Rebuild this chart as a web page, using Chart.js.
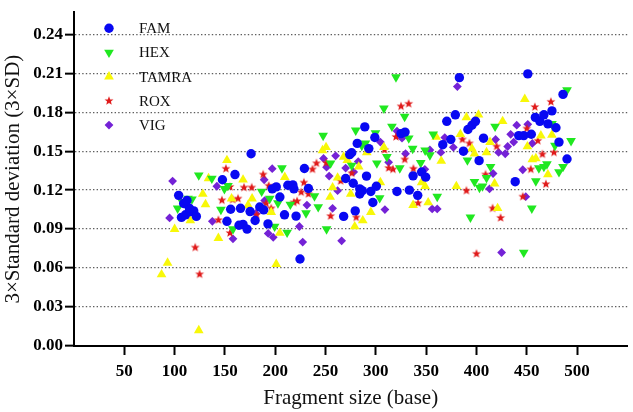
<!DOCTYPE html>
<html>
<head>
<meta charset="utf-8">
<script src="https://cdn.jsdelivr.net/npm/chart.js@4/dist/chart.umd.min.js"></script>
<style>
  html, body { margin: 0; padding: 0; background: #fff; }
  #wrap { width: 633px; height: 412px; }
</style>
</head>
<body>
<div id="wrap"><canvas id="sdChart" width="633" height="412"></canvas></div>
<script>
// Tick values
const xTicks = [50, 100, 150, 200, 250, 300, 350, 400, 450, 500];
const yTicks = [0, 0.03, 0.06, 0.09, 0.12, 0.15, 0.18, 0.21, 0.24];

// FAM
const famSize = [104, 106.8, 110.8, 115.7, 119, 121.6, 114.7, 109, 112.3,
  147.5, 160, 176, 152, 155.7, 165.5, 164, 168, 172, 180, 175, 184.6, 188.5, 192.8,
  197, 201, 204.6, 209.2, 212.5, 217.5, 218.5, 220.7, 224.6, 229, 233,
  268, 270, 274, 276, 277.5, 279.5, 281.5, 284, 286.5, 284, 289, 290.7, 293, 295, 297, 299, 300.5,
  321, 325, 329, 333.3, 337, 341.6, 345.5, 349.5,
  366.5, 370.5, 374.5, 379, 383, 387, 391.5, 395.5, 399, 402.6, 407,
  438.5, 442, 447, 451, 454.5, 458.5, 463, 467, 471, 475, 479, 482, 486, 490];
const famSD = [0.116, 0.099, 0.101, 0.1035, 0.104, 0.0998, 0.106, 0.1097, 0.112,
  0.128, 0.132, 0.148, 0.096, 0.1053, 0.106, 0.093, 0.0936, 0.090, 0.0966, 0.1035, 0.107, 0.1048, 0.094,
  0.121, 0.1225, 0.1147, 0.101, 0.1238, 0.124, 0.121, 0.100, 0.067, 0.1367, 0.1213,
  0.0998, 0.129, 0.1474, 0.1488, 0.1253, 0.104, 0.156, 0.121, 0.1196, 0.117, 0.1687, 0.1308, 0.152, 0.119, 0.1105, 0.1605, 0.123,
  0.119, 0.1635, 0.1647, 0.120, 0.131, 0.116, 0.134, 0.130,
  0.155, 0.173, 0.159, 0.178, 0.2066, 0.150, 0.1667, 0.170, 0.173, 0.1427, 0.160,
  0.1265, 0.162, 0.162, 0.2095, 0.163, 0.176, 0.173, 0.178, 0.171, 0.181, 0.168, 0.157, 0.1937, 0.144];

// HEX
const hexSize = [103, 107.5, 113.3, 117.2, 124, 137, 146, 149.5, 153, 158, 186.5, 194.5, 199.4, 202.7,
  206.7, 211.8, 215, 230.6, 239, 242.7, 247.6, 251, 255, 276, 280, 286, 289.6, 299.6, 301, 303.8,
  308, 311, 316, 320, 323.8, 328.6, 332.7, 336.6, 344.6, 349, 353.7, 357, 361, 391, 394, 398, 403,
  406, 410, 414, 418.5, 447, 455, 459, 462, 467, 470, 475, 478, 482, 486, 490, 494];
const hexSD = [0.106, 0.111, 0.1135, 0.113, 0.1315, 0.129, 0.105, 0.121, 0.1234, 0.090, 0.119, 0.1135, 0.092, 0.110,
  0.137, 0.0874, 0.109, 0.1023, 0.1154, 0.107, 0.162, 0.090, 0.1407, 0.139, 0.166, 0.1543, 0.156, 0.164, 0.1407, 0.114,
  0.183, 0.1456, 0.169, 0.207, 0.137, 0.1766, 0.160, 0.152, 0.141, 0.1506, 0.147, 0.163, 0.115, 0.143, 0.099, 0.1265, 0.122,
  0.123, 0.1295, 0.138, 0.169, 0.072, 0.106, 0.127, 0.137, 0.138, 0.140, 0.171, 0.1543, 0.134, 0.138, 0.197, 0.158];

// TAMRA
const tamraSize = [87, 93, 100, 115.6, 124, 128, 130.7, 133.7, 143.5, 152, 156.6, 168, 173, 177, 196, 201,
  204.5, 209.5, 247, 250.5, 254.6, 257, 262, 268, 271.6, 275, 279, 283, 287, 291, 295, 304.5, 308,
  337, 345.5, 349, 352, 360, 365, 380, 384, 390, 395.5, 398, 402, 410, 413.5, 418, 421, 426,
  448, 450.6, 455.5, 459, 464, 471, 475];
const tamraSD = [0.055, 0.064, 0.090, 0.0966, 0.012, 0.117, 0.109, 0.129, 0.083, 0.143, 0.1135, 0.128, 0.1085, 0.1135, 0.103, 0.063,
  0.087, 0.130, 0.1506, 0.153, 0.1147, 0.122, 0.1295, 0.1456, 0.143, 0.117, 0.092, 0.138, 0.0966, 0.149, 0.103, 0.126, 0.153,
  0.1085, 0.126, 0.123, 0.1105, 0.161, 0.1424, 0.123, 0.163, 0.176, 0.152, 0.148, 0.178, 0.149, 0.157, 0.125, 0.106, 0.173,
  0.190, 0.1536, 0.1436, 0.1444, 0.162, 0.132, 0.1625];

// ROX
const roxSize = [120.5, 124.8, 143.5, 147, 151, 155, 155, 157.6, 163, 169, 176.6, 181.5, 188, 191, 193.5, 196,
  218.5, 221.7, 225.8, 228.5, 233, 237, 241, 250.7, 255, 265, 276, 280.5, 308.6, 312.7, 317, 320,
  325, 332.6, 328.7, 337.3, 342, 386, 390, 393, 400, 409, 416, 420, 424, 446, 450, 454, 458, 461,
  465.5, 469, 474, 477];
const roxSD = [0.0758, 0.0552, 0.097, 0.1122, 0.1365, 0.087, 0.1225, 0.1127, 0.1135, 0.122, 0.122, 0.101, 0.132, 0.1097, 0.1234, 0.106,
  0.1105, 0.1115, 0.1184, 0.1258, 0.117, 0.136, 0.1407, 0.141, 0.100, 0.127, 0.133, 0.099, 0.151, 0.137, 0.136, 0.161,
  0.1845, 0.1865, 0.1436, 0.1365, 0.110, 0.159, 0.1196, 0.156, 0.071, 0.132, 0.106, 0.1536, 0.0986, 0.115, 0.1674, 0.136, 0.184, 0.158,
  0.1476, 0.1246, 0.188, 0.149];

// VIG
const vigSize = [95, 98, 137.5, 142, 158, 180.7, 189, 189.5, 193, 198, 197, 224, 227.3, 231.5, 248, 251,
  253.6, 257, 260, 262, 266, 270, 278, 282.5, 304.5, 309, 312.7, 321, 326, 329.5, 348.7, 353.7,
  356, 361, 364.6, 368.5, 377, 381, 413, 416.5, 419, 422, 428.6, 425, 431, 434, 437, 440, 446,
  449, 451, 455.5];
const vigSD = [0.0986, 0.127, 0.096, 0.123, 0.0825, 0.102, 0.128, 0.112, 0.0867, 0.0837, 0.1365, 0.092, 0.080, 0.1085, 0.1444, 0.1377,
  0.1308, 0.106, 0.1464, 0.1196, 0.081, 0.137, 0.134, 0.142, 0.157, 0.105, 0.1414, 0.1655, 0.160, 0.148, 0.136, 0.151,
  0.1055, 0.1055, 0.149, 0.1605, 0.153, 0.1997, 0.121, 0.1328, 0.159, 0.149, 0.148, 0.072, 0.1536, 0.163, 0.157, 0.170, 0.1357,
  0.115, 0.1707, 0.156];

const serif = '"Liberation Serif", "Times New Roman", serif';

// filled five-point star used as ROX marker
function makeStar(color, outer, inner) {
    const c = document.createElement('canvas');
    const s = Math.ceil(outer * 2 + 2);
    c.width = s;
    c.height = s;
    const g = c.getContext('2d');
    g.fillStyle = color;
    g.beginPath();
    for (let k = 0; k < 10; k++) {
        const r = k % 2 ? inner : outer;
        const a = -Math.PI / 2 + k * Math.PI / 5;
        g.lineTo(s / 2 + r * Math.cos(a), s / 2 + r * Math.sin(a));
    }
    g.closePath();
    g.fill();
    return c;
}

const toPoints = (xs, ys) => xs.map((x, i) => ({ x: x, y: ys[i] }));

const series = [
    { label: 'FAM', xs: famSize, ys: famSD, color: '#0808f2', style: 'circle', radius: 4.7, rot: 0 },
    { label: 'HEX', xs: hexSize, ys: hexSD, color: '#20e820', style: 'triangle', radius: 5.6, rot: 180 },
    { label: 'TAMRA', xs: tamraSize, ys: tamraSD, color: '#f8f808', style: 'triangle', radius: 5.6, rot: 0 },
    { label: 'ROX', xs: roxSize, ys: roxSD, color: '#e01a1a', style: makeStar('#e01a1a', 4.7, 2), radius: 4, rot: 0 },
    { label: 'VIG', xs: vigSize, ys: vigSD, color: '#7422d6', style: 'rectRot', radius: 4.4, rot: 0 }
];

// legend drawn inside the plot, top left
const insideLegend = {
    id: 'insideLegend',
    afterDatasetsDraw(chart) {
        const ctx = chart.ctx;
        const drawPoint = Chart.helpers && Chart.helpers.drawPoint;
        ctx.save();
        ctx.font = '15px ' + serif;
        ctx.textBaseline = 'middle';
        ctx.textAlign = 'left';
        chart.data.datasets.forEach((ds, i) => {
            const y = 28.3 + i * 24.2;
            ctx.fillStyle = ds.pointBackgroundColor;
            if (drawPoint) {
                drawPoint(ctx, { pointStyle: ds.pointStyle, radius: ds.pointRadius, rotation: ds.pointRotation, borderWidth: 0 }, 109, y);
            }
            ctx.fillStyle = '#111';
            ctx.fillText(ds.label, 139, y + 1);
        });
        ctx.restore();
    }
};

new Chart(document.getElementById('sdChart'), {
    type: 'scatter',
    data: {
        datasets: series.map(s => ({
            label: s.label,
            data: toPoints(s.xs, s.ys),
            pointStyle: s.style,
            pointRadius: s.radius,
            pointHoverRadius: s.radius,
            pointRotation: s.rot,
            pointBackgroundColor: s.color,
            backgroundColor: s.color,
            pointBorderWidth: 0,
            borderWidth: 0
        }))
    },
    options: {
        responsive: false,
        animation: false,
        events: [],
        layout: { padding: 0 },
        plugins: {
            legend: { display: false },
            tooltip: { enabled: false }
        },
        scales: {
            x: {
                type: 'linear',
                min: 0,
                max: 550,
                afterBuildTicks: s => { s.ticks = xTicks.map(v => ({ value: v })); },
                afterFit: s => { s.height = 66; },
                grid: { drawOnChartArea: false, drawTicks: true, tickLength: 9, tickColor: '#000', tickWidth: 2 },
                border: { color: '#000', width: 2 },
                ticks: {
                    color: '#000',
                    padding: 6,
                    maxRotation: 0,
                    autoSkip: false,
                    font: { family: serif, size: 17, weight: 'bold' }
                },
                title: {
                    display: true,
                    text: 'Fragment size (base)',
                    color: '#111',
                    font: { family: serif, size: 21 },
                    padding: { top: 0, bottom: 1 }
                }
            },
            y: {
                min: 0,
                max: 0.257,
                afterBuildTicks: s => { s.ticks = yTicks.map(v => ({ value: v })); },
                afterFit: s => { s.width = 74; },
                grid: {
                    color: c => (c.tick && c.tick.value === 0 ? 'rgba(0,0,0,0)' : '#5e5e5e'),
                    lineWidth: 1.3,
                    drawTicks: true,
                    tickLength: 9,
                    tickColor: '#000',
                    tickWidth: 2,
                    tickBorderDash: []
                },
                border: { color: '#000', width: 2, dash: [1.4, 2.2] },
                ticks: {
                    color: '#000',
                    padding: 2,
                    font: { family: serif, size: 17, weight: 'bold' },
                    callback: v => v.toFixed(2)
                },
                title: {
                    display: true,
                    text: '3×Standard deviation (3×SD)',
                    color: '#111',
                    font: { family: serif, size: 21 },
                    padding: { top: 1, bottom: 0 }
                }
            }
        }
    },
    plugins: [insideLegend]
});
</script>
</body>
</html>
